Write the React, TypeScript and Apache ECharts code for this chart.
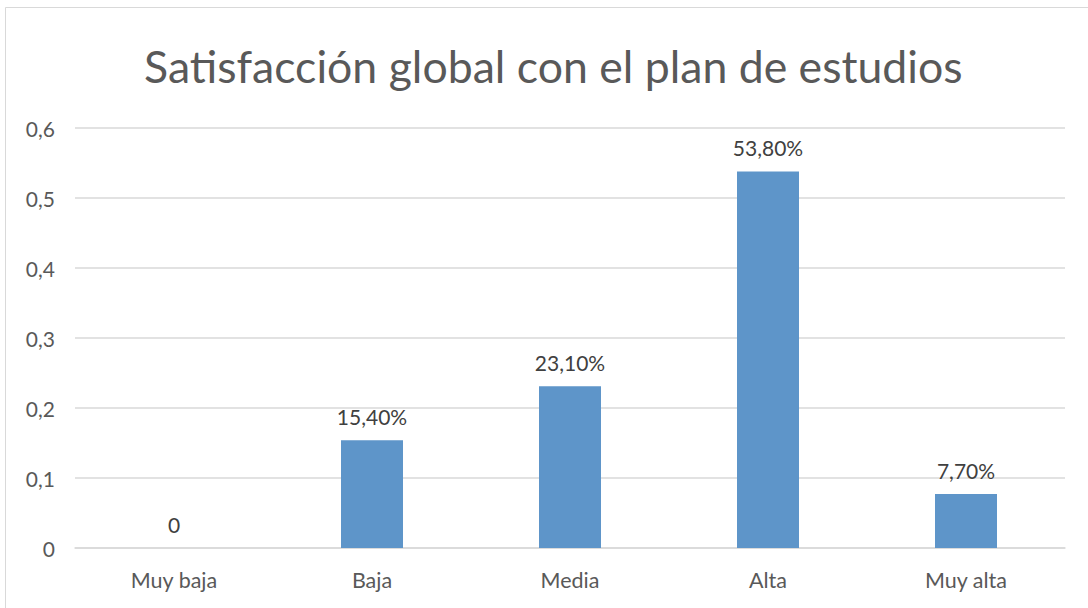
import React, { useEffect, useRef } from "react";
import * as echarts from "echarts";

const categories = ["Muy baja", "Baja", "Media", "Alta", "Muy alta"];
const values = [0, 0.154, 0.231, 0.538, 0.077];
const titleText = "Satisfacción global con el plan de estudios";

const fmtPct = (v: number) => (v === 0 ? "0" : (v * 100).toFixed(2).replace(".", ",") + "%");
const fmtTick = (v: number) => (v === 0 ? "0" : String(Math.round(v * 10) / 10).replace(".", ","));

const FONT = "Lato";

export default function App() {
  const ref = useRef<HTMLDivElement>(null);
  useEffect(() => {
    const chart = echarts.init(ref.current!, null, { renderer: "svg" });
    chart.setOption({
      animation: false,
      backgroundColor: "#ffffff",
      textStyle: { fontFamily: FONT },
      title: {
        text: titleText,
        left: 139,
        top: 38,
        textStyle: { fontSize: 44.6, fontWeight: "normal", color: "#595959", fontFamily: FONT },
      },
      graphic: [
        {
          type: "rect",
          shape: { x: 5.5, y: 7.5, width: 1100, height: 700 },
          style: { fill: "none", stroke: "#d9d9d9", lineWidth: 1 },
          silent: true,
        },
      ],
      grid: { left: 75, right: 23, top: 128, bottom: 60, containLabel: false },
      xAxis: {
        type: "category",
        data: categories,
        axisLine: { show: true, lineStyle: { color: "#d9d9d9", width: 1.5 } },
        axisTick: { show: false },
        axisLabel: { color: "#595959", fontSize: 21.5, margin: 21, fontFamily: FONT },
      },
      yAxis: {
        type: "value",
        min: 0,
        max: 0.6,
        interval: 0.1,
        axisLine: { show: false },
        axisTick: { show: false },
        splitLine: { lineStyle: { color: "#d9d9d9", width: 1.5 } },
        axisLabel: { color: "#595959", fontSize: 21, margin: 20, formatter: fmtTick, fontFamily: FONT },
      },
      series: [
        {
          type: "bar",
          data: values,
          barWidth: 62,
          itemStyle: { color: "#5e95c9" },
          label: {
            show: true,
            position: "top",
            distance: 13,
            color: "#404040",
            fontSize: 21,
            fontFamily: FONT,
            formatter: (p: any) => fmtPct(p.value),
          },
        },
      ],
    });
    return () => chart.dispose();
  }, []);
  return (
    <div
      ref={ref}
      style={{ position: "absolute", left: 0, top: 0, width: 1088, height: 608 }}
    />
  );
}
